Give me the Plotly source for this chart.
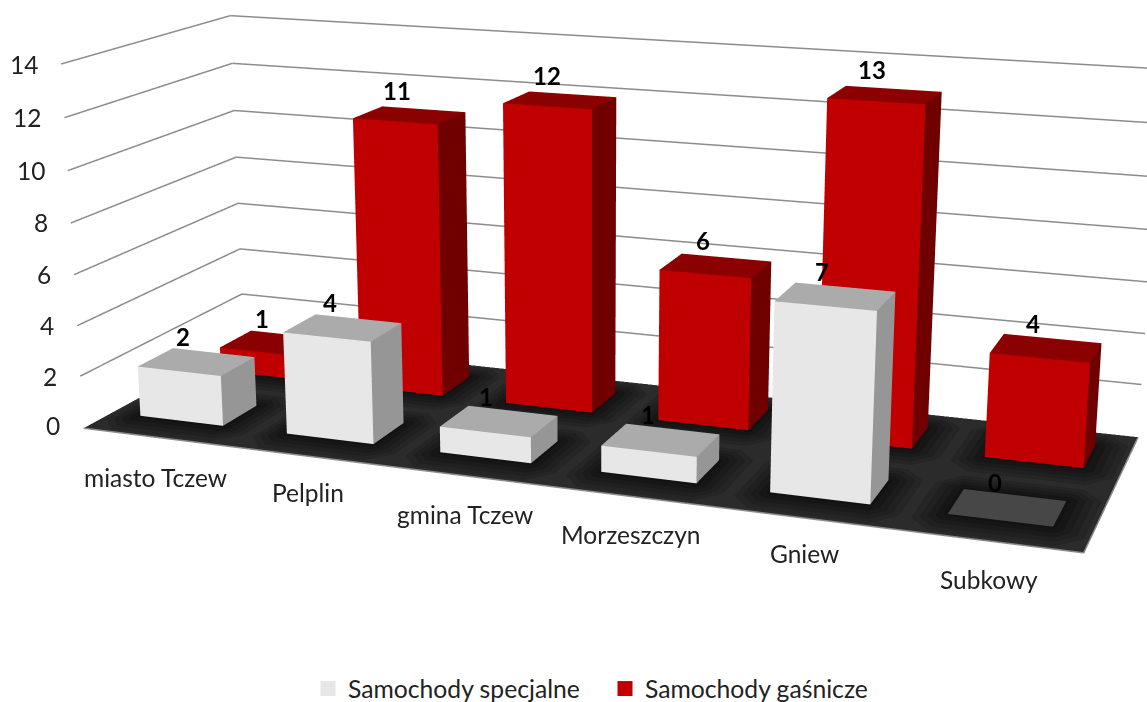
import plotly.graph_objects as go

categories = ["miasto Tczew", "Pelplin", "gmina Tczew", "Morzeszczyn", "Gniew", "Subkowy"]
specjalne = [2, 4, 1, 1, 7, 0]
gasnicze = [1, 11, 12, 6, 13, 4]
z_ticks = [0, 2, 4, 6, 8, 10, 12, 14]

# view: the reference has a long-lens perspective, so the scene is larger than the window
FIG_W, FIG_H, LEFT, TOP = 1176, 1983, 0, -649
ASPECT = dict(x=4, y=1.356, z=1.4885)
EYE = dict(x=3.081, y=-8.571, z=2.266)
CENTER = dict(x=0.034, y=-0.321, z=-0.277)

X0, X1, Y0, Y1, ZLO, ZHI = 0, 6, 0, 2, -0.1, 14.1
BAR_X0, BAR_W = 0.22, 0.57
BAR_Y0, BAR_D = 0.29, 0.42
LIGHT = dict(ambient=1, diffuse=0, specular=0, fresnel=0, roughness=1)
SHADOW_E = [0.18, 0.14, 0.10, 0.06, 0.02]
SHADOW_C = ["#252525", "#202020", "#1b1b1b", "#161616", "#121212"]


def bars(values, row, front, side, top, zero_top=None):
    xs, ys, zs, ii, jj, kk, cols = [], [], [], [], [], [], []
    for i, v in enumerate(values):
        x0, x1 = i + BAR_X0, i + BAR_X0 + BAR_W
        y0, y1 = row + BAR_Y0, row + BAR_Y0 + BAR_D
        n = len(xs)
        for z in (0, v):
            xs += [x0, x1, x1, x0]
            ys += [y0, y0, y1, y1]
            zs += [z, z, z, z]
        tc = top if v or not zero_top else zero_top
        faces = [((0, 1, 5), front), ((0, 5, 4), front), ((1, 2, 6), side), ((1, 6, 5), side),
                 ((4, 5, 6), tc), ((4, 6, 7), tc)]
        for (a, b, c), col in faces:
            ii.append(n + a)
            jj.append(n + b)
            kk.append(n + c)
            cols.append(col)
    return go.Mesh3d(x=xs, y=ys, z=zs, i=ii, j=jj, k=kk, facecolor=cols, flatshading=True,
                     hoverinfo="skip", showlegend=False, lighting=LIGHT)


def shadow(e, color, z):
    xs, ys, zs, ii, jj, kk = [], [], [], [], [], []
    ex, ey, cx, cy = e, e * 1.4, e * 0.7, e * 0.9
    for row in (0, 1):
        for i in range(len(categories)):
            x0, x1 = i + BAR_X0 - ex, i + BAR_X0 + BAR_W + ex
            y0, y1 = row + BAR_Y0 - ey, row + BAR_Y0 + BAR_D + ey
            n = len(xs)
            xs += [x0 + cx, x1 - cx, x1, x1, x1 - cx, x0 + cx, x0, x0]
            ys += [y0, y0, y0 + cy, y1 - cy, y1, y1, y1 - cy, y0 + cy]
            zs += [z] * 8
            for t in range(1, 7):
                ii.append(n)
                jj.append(n + t)
                kk.append(n + t + 1)
    return go.Mesh3d(x=xs, y=ys, z=zs, i=ii, j=jj, k=kk, facecolor=[color] * len(ii), flatshading=True,
                     hoverinfo="skip", showlegend=False, lighting=LIGHT)


fig = go.Figure()
fig.add_trace(go.Mesh3d(x=[X0, X1, X1, X0], y=[Y0, Y0, Y1, Y1], z=[-.09] * 4, i=[0, 0], j=[1, 2], k=[2, 3],
                        facecolor=["#2b2b2b"] * 2, flatshading=True, hoverinfo="skip", showlegend=False,
                        lighting=LIGHT))
for n, (e, c) in enumerate(zip(SHADOW_E, SHADOW_C)):
    fig.add_trace(shadow(e, c, -0.075 + 0.015 * n))
fig.add_trace(go.Scatter3d(x=[X0, X1, X1], y=[Y0, Y0, Y1], z=[-.09] * 3, mode="lines", hoverinfo="skip",
                           showlegend=False, line=dict(color="#8c8c8c", width=3)))
for t in z_ticks[1:]:
    fig.add_trace(go.Scatter3d(x=[X0, X0, X1], y=[Y0, Y1, Y1], z=[t, t, t], mode="lines", hoverinfo="skip",
                               showlegend=False, line=dict(color="#8c8c8c", width=3)))
fig.add_trace(bars(specjalne, 0, "#e7e7e7", "#969696", "#ababab", "#474747"))
fig.add_trace(bars(gasnicze, 1, "#c00000", "#700000", "#8b0000"))
fig.add_trace(go.Scatter3d(x=[None], y=[None], z=[None], mode="markers", name="Samochody specjalne",
                           marker=dict(symbol="square", size=15, color="#e7e7e7")))
fig.add_trace(go.Scatter3d(x=[None], y=[None], z=[None], mode="markers", name="Samochody gaśnicze",
                           marker=dict(symbol="square", size=15, color="#c00000")))

font = dict(family="Lato", size=24.5, color="#222222")
ann = []
for t in z_ticks:
    ann.append(dict(x=X0, y=Y0, z=t, text=str(t), showarrow=False, xanchor="right", xshift=-21, font=font))
cat_dx = [-1, 1, 0, 0, 0, 1]
cat_dy = [-42, -39, -41, -41, -38, -41]
for i, c in enumerate(categories):
    ann.append(dict(x=i + .5, y=Y0, z=0, text=c, showarrow=False, xshift=cat_dx[i], yshift=cat_dy[i], font=font))
vf = dict(family="Lato", size=24, color="#000000")
for row, series in enumerate((specjalne, gasnicze)):
    for i, v in enumerate(series):
        ann.append(dict(x=i + BAR_X0 + BAR_W / 2, y=row + BAR_Y0 + BAR_D / 2, z=v, text=f"<b>{v}</b>",
                        showarrow=False, xshift=-13, yshift=25, font=vf))

hidden = dict(visible=False, showgrid=False, zeroline=False, showticklabels=False, title="")
fig.update_layout(
    width=FIG_W, height=FIG_H, margin=dict(l=0, r=0, t=0, b=0), paper_bgcolor="white",
    legend=dict(orientation="h", x=(308 - LEFT) / FIG_W, xanchor="left", y=1 - (689 - TOP) / FIG_H, yanchor="middle",
                entrywidth=252, entrywidthmode="pixels", font=dict(family="Lato", size=24.7, color="#222222")),
    scene=dict(
        domain=dict(x=[0, 1], y=[0, 1]),
        xaxis=dict(hidden, range=[X0, X1]), yaxis=dict(hidden, range=[Y0, Y1]), zaxis=dict(hidden, range=[ZLO, ZHI]),
        aspectmode="manual", aspectratio=ASPECT,
        camera=dict(eye=EYE, center=CENTER, up=dict(x=0, y=0, z=1)),
        annotations=ann,
    ),
)
post = ("var g=document.getElementById('{plot_id}');"
        "document.documentElement.style.overflow='hidden';"
        "document.body.style.overflow='hidden';document.body.style.margin='0';"
        f"g.style.position='fixed';g.style.left='{LEFT}px';g.style.top='{TOP}px';")
fig.write_html("out.html", post_script=post)
